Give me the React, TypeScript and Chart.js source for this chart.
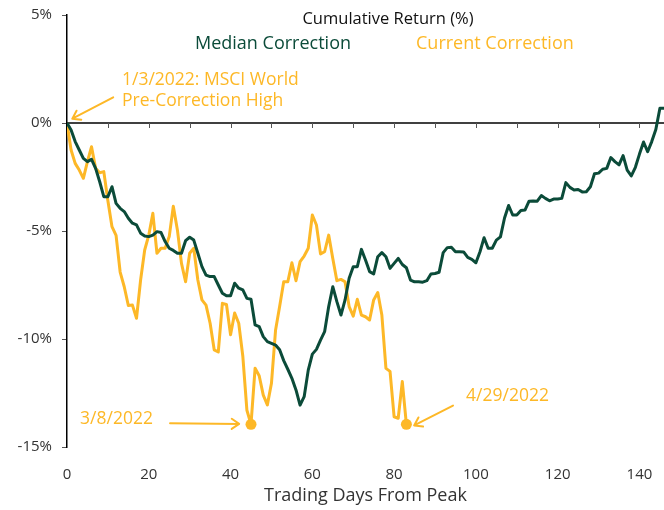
import React, { useEffect, useRef } from "react";
import { Chart, registerables } from "chart.js";

Chart.register(...registerables);

// ---- data (cumulative return %, by trading day from peak) ----
const MEDIAN_RETURNS = [
  0, -0.32, -0.86, -1.25, -1.64, -1.79, -1.68, -2.1, -2.72, -3.41,
  -3.41, -2.95, -3.72, -3.95, -4.1, -4.41, -4.64, -4.72, -5.1, -5.23,
  -5.26, -5.19, -5.03, -5.07, -5.49, -5.8, -5.9, -6.03, -6.03, -5.45,
  -5.29, -5.42, -6.03, -6.65, -7.04, -7.11, -7.11, -7.5, -7.88, -8.0,
  -8.0, -7.42, -7.65, -7.73, -8.12, -8.16, -9.35, -9.43, -9.89, -10.12,
  -10.2, -10.28, -10.5, -11.0, -11.4, -11.82, -12.36, -13.06, -12.67, -11.44,
  -10.7, -10.48, -10.05, -9.66, -8.5, -7.58, -8.27, -8.89, -8.19, -7.19,
  -6.65, -6.65, -5.85, -6.34, -6.88, -6.99, -6.19, -6.0, -6.19, -6.73,
  -6.5, -6.27, -6.55, -6.7, -7.27, -7.35, -7.35, -7.37, -7.3, -6.99,
  -6.97, -6.91, -6.0, -5.77, -5.75, -5.96, -5.96, -5.97, -6.22, -6.31,
  -6.47, -5.96, -5.31, -5.8, -5.8, -5.42, -5.27, -4.4, -3.82, -4.26,
  -4.26, -4.05, -4.03, -3.62, -3.61, -3.62, -3.36, -3.49, -3.6, -3.52,
  -3.52, -3.49, -2.76, -2.98, -3.1, -3.08, -3.19, -3.18, -2.95, -2.35,
  -2.32, -2.14, -2.1, -1.6, -1.79, -1.94, -1.51, -2.18, -2.45, -2.05,
  -1.44, -0.88, -1.33, -0.86, -0.3, 0.68, 0.68,
];

const CURRENT_RETURNS = [
  0, -1.25, -1.87, -2.18, -2.56, -1.79, -1.1, -2.1, -2.3, -2.25,
  -3.6, -4.8, -5.2, -6.9, -7.58, -8.45, -8.43, -9.04, -7.27, -5.88,
  -5.19, -4.18, -6.03, -5.8, -5.8, -5.26, -3.85, -4.95, -6.5, -7.35,
  -6.03, -5.8, -7.27, -8.19, -8.43, -9.27, -10.5, -10.6, -8.35, -8.4,
  -9.8, -8.8, -9.27, -10.8, -13.3, -13.95, -11.35, -11.7, -12.6, -13.05,
  -12.05, -9.6, -8.5, -7.35, -7.35, -6.47, -7.3, -6.42, -6.16, -5.8,
  -4.26, -4.72, -6.06, -5.96, -5.19, -6.27, -7.3, -7.24, -7.35, -8.5,
  -8.94, -8.16, -8.89, -8.97, -9.12, -8.19, -7.85, -8.89, -11.36, -11.5,
  -13.6, -13.67, -11.97, -13.95,
];

const SERIES_NAMES = ["Median Correction", "Current Correction"];
const CHART_TITLE = "Cumulative Return (%)";
const X_TITLE = "Trading Days From Peak";

const X_MIN = 0;
const X_MAX = 146;
const X_LABEL_STEP = 20;
const X_MINOR_STEP = 10;
const Y_MIN = -15;
const Y_MAX = 5;
const Y_STEP = 5;

const TROUGH_DAYS = [45, 83];
const PEAK_LABEL = ["1/3/2022: MSCI World", "Pre-Correction High"];
const TROUGH_LABELS = ["3/8/2022", "4/29/2022"];

// ---- styling ----
const GREEN = "#0b4b39";
const ORANGE = "#fdb827";
const FONT = "'Open Sans', Lato, sans-serif";

// annotation anchors in data units (day, %)
const ANNOTATIONS = [
  { lines: PEAK_LABEL, at: [13.45, 1.99], from: [11.3, 1.19], to: [1.3, 0.2] },
  { lines: [TROUGH_LABELS[0]], at: [3.2, -13.7], from: [25.2, -13.9], to: [42.1, -13.93] },
  { lines: [TROUGH_LABELS[1]], at: [97.6, -12.64], from: [94.4, -13.08], to: [84.9, -14.0] },
];

function drawArrow(ctx: CanvasRenderingContext2D, x1: number, y1: number, x2: number, y2: number) {
  const ang = Math.atan2(y2 - y1, x2 - x1);
  const head = 9;
  const spread = 0.6;
  ctx.beginPath();
  ctx.moveTo(x1, y1);
  ctx.lineTo(x2, y2);
  ctx.moveTo(x2 - head * Math.cos(ang - spread), y2 - head * Math.sin(ang - spread));
  ctx.lineTo(x2, y2);
  ctx.lineTo(x2 - head * Math.cos(ang + spread), y2 - head * Math.sin(ang + spread));
  ctx.stroke();
}

const overlayPlugin = {
  id: "overlay",
  beforeDatasetsDraw(chart: any) {
    const { ctx, chartArea, scales } = chart;
    const x = scales.x;
    const y = scales.y;
    const y0 = y.getPixelForValue(0);
    ctx.save();
    ctx.strokeStyle = "#000";
    ctx.lineWidth = 1.5;
    ctx.beginPath();
    ctx.moveTo(chartArea.left, y0);
    ctx.lineTo(chartArea.right, y0);
    ctx.stroke();
    ctx.lineWidth = 1;
    ctx.strokeStyle = "#555";
    ctx.beginPath();
    for (let d = X_MIN; d <= X_MAX; d += X_MINOR_STEP) {
      const px = Math.round(x.getPixelForValue(d)) + 0.5;
      ctx.moveTo(px, y0);
      ctx.lineTo(px, y0 + 5);
    }
    ctx.stroke();
    ctx.restore();
  },
  afterDraw(chart: any) {
    const { ctx, chartArea, scales } = chart;
    const x = scales.x;
    const y = scales.y;
    ctx.save();
    ctx.textBaseline = "middle";
    // title
    ctx.font = `16.5px ${FONT}`;
    ctx.fillStyle = "#111";
    ctx.textAlign = "center";
    ctx.fillText(CHART_TITLE, chartArea.left + 321, chartArea.top + 4);
    // legend
    ctx.textAlign = "left";
    ctx.font = `18px ${FONT}`;
    ctx.fillStyle = GREEN;
    ctx.fillText(SERIES_NAMES[0], chartArea.left + 128, chartArea.top + 29);
    ctx.fillStyle = ORANGE;
    ctx.fillText(SERIES_NAMES[1], chartArea.left + 349, chartArea.top + 29);
    // annotations
    ctx.font = `17.5px ${FONT}`;
    ctx.fillStyle = ORANGE;
    ctx.strokeStyle = ORANGE;
    ctx.lineWidth = 2;
    ctx.lineCap = "round";
    ctx.lineJoin = "round";
    ANNOTATIONS.forEach((a) => {
      const tx = x.getPixelForValue(a.at[0]);
      const ty = y.getPixelForValue(a.at[1]);
      a.lines.forEach((line, i) => ctx.fillText(line, tx, ty + i * 21));
      drawArrow(
        ctx,
        x.getPixelForValue(a.from[0]),
        y.getPixelForValue(a.from[1]),
        x.getPixelForValue(a.to[0]),
        y.getPixelForValue(a.to[1])
      );
    });
    ctx.restore();
  },
};

export default function App() {
  const canvasRef = useRef<HTMLCanvasElement | null>(null);

  useEffect(() => {
    const canvas = canvasRef.current;
    if (!canvas) return;
    const chart = new Chart(canvas, {
      type: "line",
      data: {
        datasets: [
          {
            label: SERIES_NAMES[0],
            data: MEDIAN_RETURNS.map((v, i) => ({ x: i, y: v })),
            borderColor: GREEN,
            borderWidth: 3,
            pointRadius: 0,
            tension: 0,
            borderJoinStyle: "round",
          },
          {
            label: SERIES_NAMES[1],
            data: CURRENT_RETURNS.map((v, i) => ({ x: i, y: v })),
            borderColor: ORANGE,
            borderWidth: 3,
            pointRadius: 0,
            tension: 0,
            borderJoinStyle: "round",
          },
          {
            label: "troughs",
            data: TROUGH_DAYS.map((d) => ({ x: d, y: CURRENT_RETURNS[d] })),
            showLine: false,
            pointRadius: 5.5,
            pointBackgroundColor: ORANGE,
            pointBorderWidth: 0,
            borderColor: ORANGE,
          },
        ],
      },
      options: {
        animation: false,
        responsive: false,
        devicePixelRatio: 1,
        layout: { autoPadding: false, padding: { top: 15, left: 0, right: 0, bottom: 0 } },
        plugins: { legend: { display: false }, tooltip: { enabled: false }, title: { display: false } },
        scales: {
          x: {
            type: "linear",
            min: X_MIN,
            max: X_MAX,
            grid: { display: false },
            border: { display: false },
            ticks: {
              stepSize: X_LABEL_STEP,
              includeBounds: false,
              autoSkip: false,
              maxRotation: 0,
              padding: 11,
              color: "#333",
              font: { family: FONT, size: 15 },
            },
            title: {
              display: true,
              text: X_TITLE,
              color: "#333",
              font: { family: FONT, size: 18 },
              padding: { top: 0, bottom: 3 },
            },
            afterFit: (s: any) => {
              s.height = 63;
              s.paddingLeft = 0;
              s.paddingRight = 0;
            },
          },
          y: {
            type: "linear",
            min: Y_MIN,
            max: Y_MAX,
            grid: { display: true, drawOnChartArea: false, drawTicks: true, tickLength: 5, color: "#555" },
            border: { display: true, color: "#000", width: 1.5 },
            ticks: {
              stepSize: Y_STEP,
              padding: 10,
              color: "#333",
              font: { family: FONT, size: 15 },
              callback: (v: any) => `${v}%`,
            },
            afterFit: (s: any) => {
              s.width = 67;
              s.paddingTop = 0;
              s.paddingBottom = 0;
            },
          },
        },
      },
      plugins: [overlayPlugin],
    } as any);
    return () => chart.destroy();
  }, []);

  return (
    <div style={{ position: "fixed", left: 0, top: 0, width: 664, height: 510, background: "#fff" }}>
      <canvas ref={canvasRef} width={664} height={510} />
    </div>
  );
}
